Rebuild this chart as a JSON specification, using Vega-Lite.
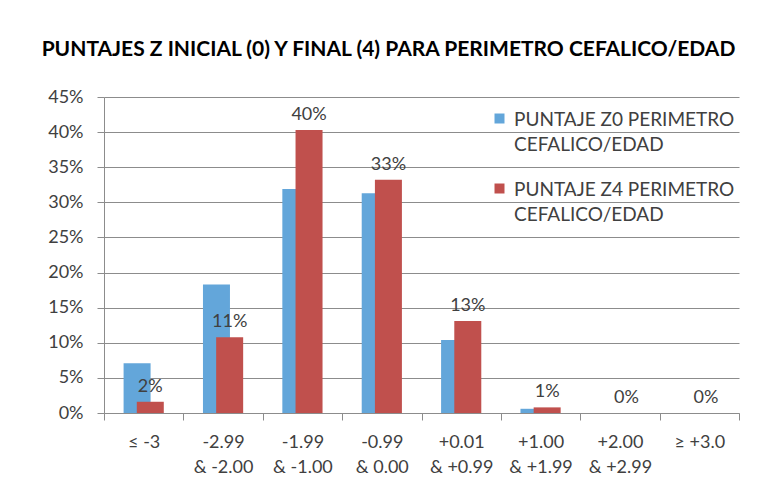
{
  "$schema": "https://vega.github.io/schema/vega-lite/v6.json",
  "width": 635,
  "height": 316,
  "autosize": {"type": "none"},
  "padding": {"left": 104, "top": 97, "right": 38, "bottom": 65},
  "background": "white",
  "title": {
    "text": "PUNTAJES Z INICIAL (0) Y  FINAL (4) PARA PERIMETRO CEFALICO/EDAD",
    "font": "Lato",
    "fontSize": 21,
    "fontWeight": "bold",
    "color": "#000000",
    "anchor": "middle",
    "dx": -33,
    "offset": 28
  },
  "data": {
    "values": [
      {"cat": "≤ -3", "serie": "PUNTAJE Z0 PERIMETRO CEFALICO/EDAD", "v": 0.071},
      {"cat": "-2.99 & -2.00", "serie": "PUNTAJE Z0 PERIMETRO CEFALICO/EDAD", "v": 0.183},
      {"cat": "-1.99 & -1.00", "serie": "PUNTAJE Z0 PERIMETRO CEFALICO/EDAD", "v": 0.319},
      {"cat": "-0.99 & 0.00", "serie": "PUNTAJE Z0 PERIMETRO CEFALICO/EDAD", "v": 0.313},
      {"cat": "+0.01 & +0.99", "serie": "PUNTAJE Z0 PERIMETRO CEFALICO/EDAD", "v": 0.104},
      {"cat": "+1.00 & +1.99", "serie": "PUNTAJE Z0 PERIMETRO CEFALICO/EDAD", "v": 0.006},
      {"cat": "+2.00 & +2.99", "serie": "PUNTAJE Z0 PERIMETRO CEFALICO/EDAD", "v": 0},
      {"cat": "≥ +3.0", "serie": "PUNTAJE Z0 PERIMETRO CEFALICO/EDAD", "v": 0},
      {"cat": "≤ -3", "serie": "PUNTAJE Z4 PERIMETRO CEFALICO/EDAD", "v": 0.016},
      {"cat": "-2.99 & -2.00", "serie": "PUNTAJE Z4 PERIMETRO CEFALICO/EDAD", "v": 0.108},
      {"cat": "-1.99 & -1.00", "serie": "PUNTAJE Z4 PERIMETRO CEFALICO/EDAD", "v": 0.403},
      {"cat": "-0.99 & 0.00", "serie": "PUNTAJE Z4 PERIMETRO CEFALICO/EDAD", "v": 0.332},
      {"cat": "+0.01 & +0.99", "serie": "PUNTAJE Z4 PERIMETRO CEFALICO/EDAD", "v": 0.131},
      {"cat": "+1.00 & +1.99", "serie": "PUNTAJE Z4 PERIMETRO CEFALICO/EDAD", "v": 0.008},
      {"cat": "+2.00 & +2.99", "serie": "PUNTAJE Z4 PERIMETRO CEFALICO/EDAD", "v": 0},
      {"cat": "≥ +3.0", "serie": "PUNTAJE Z4 PERIMETRO CEFALICO/EDAD", "v": 0}
    ]
  },
  "encoding": {
    "x": {
      "field": "cat",
      "type": "nominal",
      "sort": ["≤ -3", "-2.99 & -2.00", "-1.99 & -1.00", "-0.99 & 0.00", "+0.01 & +0.99", "+1.00 & +1.99", "+2.00 & +2.99", "≥ +3.0"],
      "scale": {"paddingInner": 0, "paddingOuter": 0},
      "axis": {
        "title": null,
        "labelAngle": 0,
        "labelExpr": "split(replace(datum.label, ' &', '|&'), '|')",
        "tickBand": "extent",
        "tickSize": 7,
        "tickColor": "#8c8c8c",
        "domainColor": "#8c8c8c",
        "labelPadding": 13,
        "labelFontSize": 18,
        "labelFont": "Lato",
        "labelColor": "#404040",
        "labelLineHeight": 25,
        "labelBaseline": "top",
        "grid": false
      }
    },
    "y": {
      "field": "v",
      "type": "quantitative",
      "scale": {"domain": [0, 0.45], "nice": false},
      "axis": {
        "title": null,
        "values": [0, 0.05, 0.1, 0.15, 0.2, 0.25, 0.3, 0.35, 0.4, 0.45],
        "format": ".0%",
        "grid": true,
        "gridColor": "#8c8c8c",
        "tickColor": "#8c8c8c",
        "domainColor": "#8c8c8c",
        "tickSize": 7,
        "labelPadding": 14,
        "labelFontSize": 18,
        "labelFont": "Lato",
        "labelColor": "#404040"
      }
    }
  },
  "layer": [
    {
      "transform": [{"filter": "datum.serie === 'PUNTAJE Z0 PERIMETRO CEFALICO/EDAD'"}],
      "mark": {"type": "bar", "width": 27, "xOffset": -6.6},
      "encoding": {
        "color": {
          "field": "serie",
          "type": "nominal",
          "scale": {
            "domain": ["PUNTAJE Z0 PERIMETRO CEFALICO/EDAD", "PUNTAJE Z4 PERIMETRO CEFALICO/EDAD"],
            "range": ["#63A6DA", "#C0504D"]
          },
          "legend": {
            "title": null,
            "orient": "none",
            "legendX": 386,
            "legendY": 12,
            "symbolType": "square",
            "symbolSize": 100,
            "symbolStrokeWidth": 0,
            "labelFont": "Lato",
            "labelFontSize": 19,
            "labelColor": "#404040",
            "labelLimit": 400,
            "labelOffset": 5,
            "labelBaseline": "top",
            "rowPadding": 24,
            "labelExpr": "[substring(datum.label, 0, 20), substring(datum.label, 21)]",
            "encode": {"labels": {"update": {"dy": {"value": -8}}}}
          }
        }
      }
    },
    {
      "transform": [{"filter": "datum.serie === 'PUNTAJE Z4 PERIMETRO CEFALICO/EDAD'"}],
      "mark": {"type": "bar", "width": 27, "xOffset": 6.6},
      "encoding": {
        "color": {"field": "serie", "type": "nominal"}
      }
    },
    {
      "transform": [{"filter": "datum.serie === 'PUNTAJE Z4 PERIMETRO CEFALICO/EDAD'"}],
      "mark": {"type": "text", "xOffset": 6.6, "dy": -6, "baseline": "bottom", "font": "Lato", "fontSize": 18, "color": "#404040"},
      "encoding": {
        "text": {"field": "v", "type": "quantitative", "format": ".0%"}
      }
    }
  ],
  "config": {
    "view": {"stroke": null},
    "style": {"guide-label": {"lineHeight": 25}}
  }
}
